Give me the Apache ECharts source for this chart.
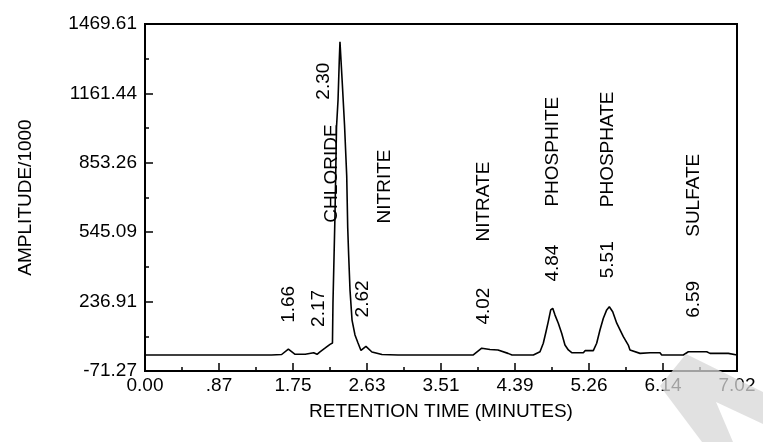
<!DOCTYPE html>
<html><head><meta charset="utf-8">
<script src="https://cdn.jsdelivr.net/npm/echarts@6/dist/echarts.min.js"></script>
<style>html,body{margin:0;padding:0;background:#fff}#c{width:763px;height:442px}</style>
</head><body><div id="c"></div>
<script>
// ---- data ----
const retentionTime = [0.000,0.500,1.000,1.500,1.620,1.700,1.780,1.900,1.920,2.000,2.040,2.075,2.130,2.194,2.223,2.229,2.253,2.271,2.289,2.304,2.312,2.340,2.366,2.392,2.404,2.415,2.431,2.455,2.490,2.526,2.561,2.620,2.691,2.810,3.000,3.500,3.893,3.993,4.091,4.186,4.305,4.352,4.605,4.684,4.723,4.755,4.782,4.811,4.835,4.862,4.901,4.941,4.980,5.020,5.060,5.198,5.218,5.316,5.356,5.395,5.435,5.475,5.506,5.546,5.594,5.633,5.672,5.731,5.751,5.870,5.988,6.107,6.127,6.383,6.443,6.661,6.700,6.917,6.937,7.020];
const amplitude = [0,0,0,0,2,26,3,3,10,10,3,14,29,47,53,231,622,1012,1132,1310,1391,1203,1021,795,564,444,288,155,89,53,20,38,13,2,0,0,0,30,24,22,7,0,0,14,52,103,148,200,207,177,141,96,44,22,10,10,19,19,52,111,163,200,214,192,141,111,81,44,22,7,10,10,0,0,14,14,7,7,0,0];
const xTickLabels = ['0.00','.87','1.75','2.63','3.51','4.39','5.26','6.14','7.02'];
const yTickLabels = ['-71.27','236.91','545.09','853.26','1161.44','1469.61'];
const peakTimes = [1.66, 2.17, 2.30, 2.62, 4.02, 4.84, 5.51, 6.59];
const peakNames = ['', '', 'CHLORIDE', 'NITRITE', 'NITRATE', 'PHOSPHITE', 'PHOSPHATE', 'SULFATE'];

// ---- layout (pixel offsets of the rotated annotations) ----
const timeLabelLayout = [[4,29],[-9,19],[-15,-29],[-3,29],[0,24],[0,28],[-2,29],[-7,34]];
const nameLabelLayout = [null,null,[-7,-152],[19,123],[0,107],[0,103],[-2,100],[-7,115]];

const X_MIN = 0, X_MAX = 7.02, X_INT = 0.8775;
const Y_MIN = -71.27, Y_MAX = 1469.61, Y_INT = 308.176;
const FONT = "'Liberation Sans', Arial, sans-serif";
const FS = 19;

const chart = echarts.init(document.getElementById('c'));
const axisCommon = {
  axisLine: {show: true, onZero: false, lineStyle: {color: '#000', width: 2}},
  axisTick: {show: true, inside: true, length: 8, lineStyle: {color: '#000', width: 1.5}},
  minorTick: {show: true, splitNumber: 2, length: 4, lineStyle: {color: '#000', width: 1.5}},
  splitLine: {show: false},
  nameTextStyle: {color: '#000', fontSize: FS, fontFamily: FONT}
};
chart.setOption({
  animation: false,
  backgroundColor: '#fff',
  grid: {left: 145, top: 24, right: 26, bottom: 71, show: true, borderColor: '#000', borderWidth: 2, containLabel: false},
  xAxis: Object.assign({}, axisCommon, {
    type: 'value', min: X_MIN, max: X_MAX, interval: X_INT,
    name: 'RETENTION TIME (MINUTES)', nameLocation: 'middle', nameGap: 31,
    axisLabel: {color: '#000', fontSize: FS, fontFamily: FONT, margin: 5,
      formatter: v => xTickLabels[Math.round((v - X_MIN) / X_INT)]}
  }),
  yAxis: Object.assign({}, axisCommon, {
    type: 'value', min: Y_MIN, max: Y_MAX, interval: Y_INT,
    name: 'AMPLITUDE/1000', nameLocation: 'middle', nameGap: 110,
    axisLabel: {color: '#000', fontSize: FS, fontFamily: FONT, margin: 8,
      formatter: v => yTickLabels[Math.round((v - Y_MIN) / Y_INT)]}
  }),
  series: [{
    type: 'line', showSymbol: false, symbol: 'none',
    data: retentionTime.map((t, i) => [t, amplitude[i]]),
    lineStyle: {color: '#000', width: 1.6}
  }]
});

function signalAt(t) {
  for (let i = 1; i < retentionTime.length; i++) {
    if (retentionTime[i] >= t) {
      const t0 = retentionTime[i-1], t1 = retentionTime[i];
      const f = (t - t0) / (t1 - t0);
      return amplitude[i-1] + f * (amplitude[i] - amplitude[i-1]);
    }
  }
  return amplitude[amplitude.length - 1];
}
function vtext(text, x, y) {
  return {type: 'text', x: x, y: y, rotation: Math.PI / 2, z: 50,
    style: {text: text, fill: '#000', font: FS + 'px ' + FONT, textAlign: 'left', textVerticalAlign: 'middle'}};
}
const g = [];
peakTimes.forEach((t, i) => {
  const p = chart.convertToPixel({gridIndex: 0}, [t, signalAt(t)]);
  const tl = timeLabelLayout[i];
  g.push(vtext(t.toFixed(2), p[0] + tl[0], p[1] - tl[1]));
  const nl = nameLabelLayout[i];
  if (peakNames[i] && nl) g.push(vtext(peakNames[i], p[0] + nl[0], p[1] - nl[1]));
});
// light grey watermark fragment in the lower-right corner
g.push({type: 'polygon', z: 100, silent: true,
  shape: {points: [[686,354],[763,392],[763,424],[716,402],[733,442],[702,442],[660,386]]},
  style: {fill: 'rgba(215,215,215,0.75)'}});
chart.setOption({graphic: g});
</script></body></html>
